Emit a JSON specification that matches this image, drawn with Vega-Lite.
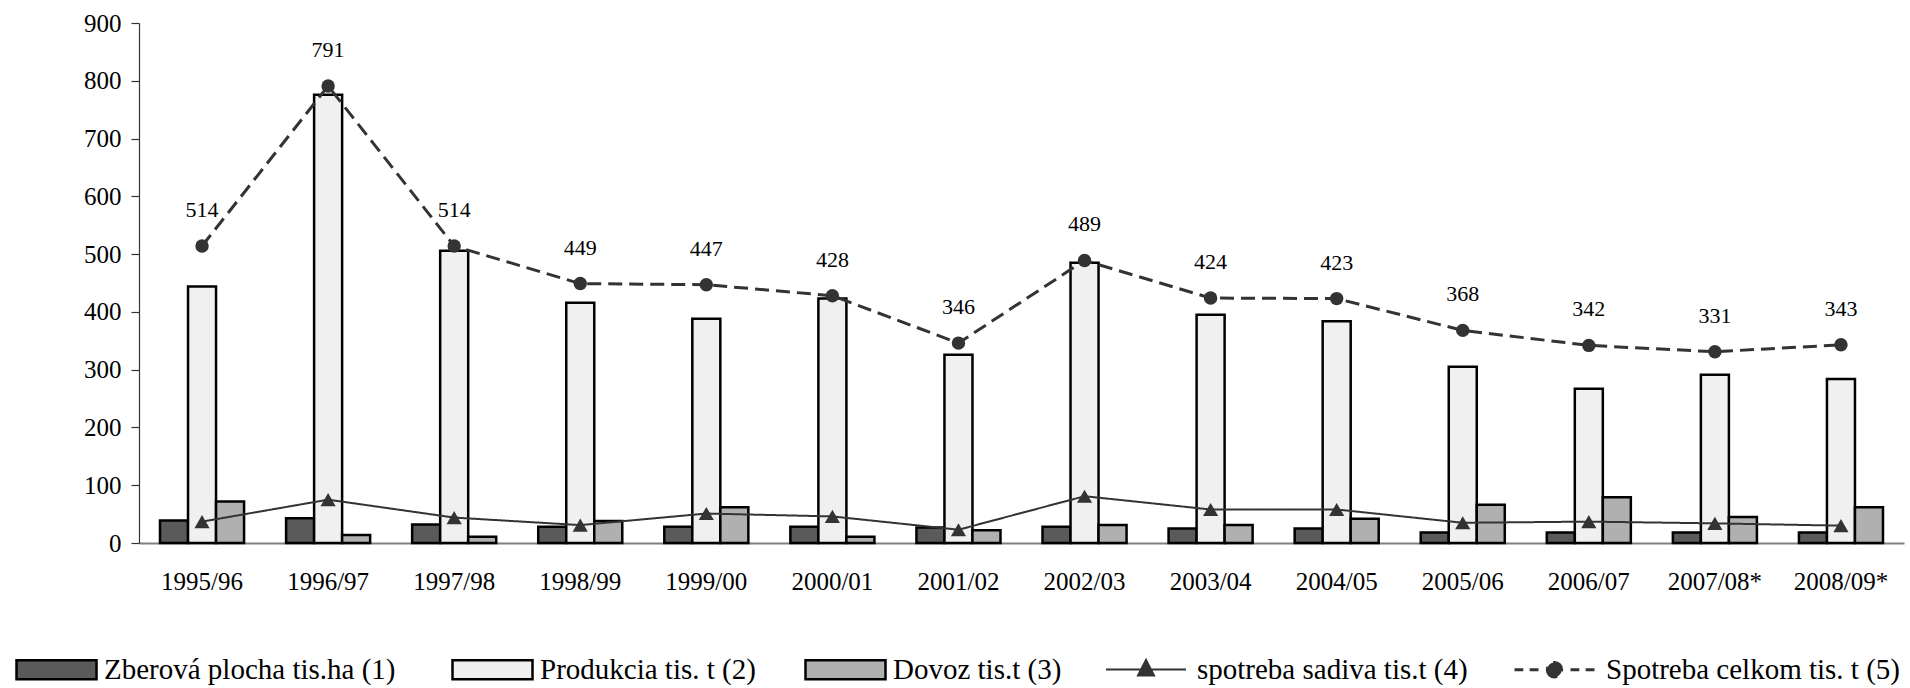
{
  "$schema": "https://vega.github.io/schema/vega-lite/v6.json",
  "width": 1765,
  "height": 520,
  "autosize": {"type": "none"},
  "padding": {"left": 139, "top": 23, "right": 6, "bottom": 145},
  "background": "white",
  "config": {
    "font": "Liberation Serif",
    "view": {"stroke": null},
    "axis": {"grid": false, "labelFont": "Liberation Serif", "labelColor": "black", "labelFontSize": 25},
    "legend": {"labelFont": "Liberation Serif", "labelFontSize": 29, "labelColor": "black", "labelLimit": 500}
  },
  "data": {
    "values": [
      {"year": "1995/96", "series": "Zberová plocha  tis.ha (1)", "value": 39},
      {"year": "1996/97", "series": "Zberová plocha  tis.ha (1)", "value": 43},
      {"year": "1997/98", "series": "Zberová plocha  tis.ha (1)", "value": 32},
      {"year": "1998/99", "series": "Zberová plocha  tis.ha (1)", "value": 28},
      {"year": "1999/00", "series": "Zberová plocha  tis.ha (1)", "value": 28},
      {"year": "2000/01", "series": "Zberová plocha  tis.ha (1)", "value": 28},
      {"year": "2001/02", "series": "Zberová plocha  tis.ha (1)", "value": 27},
      {"year": "2002/03", "series": "Zberová plocha  tis.ha (1)", "value": 28},
      {"year": "2003/04", "series": "Zberová plocha  tis.ha (1)", "value": 25},
      {"year": "2004/05", "series": "Zberová plocha  tis.ha (1)", "value": 25},
      {"year": "2005/06", "series": "Zberová plocha  tis.ha (1)", "value": 18},
      {"year": "2006/07", "series": "Zberová plocha  tis.ha (1)", "value": 18},
      {"year": "2007/08*", "series": "Zberová plocha  tis.ha (1)", "value": 18},
      {"year": "2008/09*", "series": "Zberová plocha  tis.ha (1)", "value": 18},
      {"year": "1995/96", "series": "Produkcia tis. t (2)", "value": 444},
      {"year": "1996/97", "series": "Produkcia tis. t (2)", "value": 776},
      {"year": "1997/98", "series": "Produkcia tis. t (2)", "value": 506},
      {"year": "1998/99", "series": "Produkcia tis. t (2)", "value": 416},
      {"year": "1999/00", "series": "Produkcia tis. t (2)", "value": 388},
      {"year": "2000/01", "series": "Produkcia tis. t (2)", "value": 423},
      {"year": "2001/02", "series": "Produkcia tis. t (2)", "value": 326},
      {"year": "2002/03", "series": "Produkcia tis. t (2)", "value": 485},
      {"year": "2003/04", "series": "Produkcia tis. t (2)", "value": 395},
      {"year": "2004/05", "series": "Produkcia tis. t (2)", "value": 384},
      {"year": "2005/06", "series": "Produkcia tis. t (2)", "value": 305},
      {"year": "2006/07", "series": "Produkcia tis. t (2)", "value": 267},
      {"year": "2007/08*", "series": "Produkcia tis. t (2)", "value": 291},
      {"year": "2008/09*", "series": "Produkcia tis. t (2)", "value": 284},
      {"year": "1995/96", "series": "Dovoz tis.t (3)", "value": 72},
      {"year": "1996/97", "series": "Dovoz tis.t (3)", "value": 14},
      {"year": "1997/98", "series": "Dovoz tis.t (3)", "value": 11},
      {"year": "1998/99", "series": "Dovoz tis.t (3)", "value": 38},
      {"year": "1999/00", "series": "Dovoz tis.t (3)", "value": 62},
      {"year": "2000/01", "series": "Dovoz tis.t (3)", "value": 11},
      {"year": "2001/02", "series": "Dovoz tis.t (3)", "value": 22},
      {"year": "2002/03", "series": "Dovoz tis.t (3)", "value": 31},
      {"year": "2003/04", "series": "Dovoz tis.t (3)", "value": 31},
      {"year": "2004/05", "series": "Dovoz tis.t (3)", "value": 42},
      {"year": "2005/06", "series": "Dovoz tis.t (3)", "value": 66},
      {"year": "2006/07", "series": "Dovoz tis.t (3)", "value": 79},
      {"year": "2007/08*", "series": "Dovoz tis.t (3)", "value": 45},
      {"year": "2008/09*", "series": "Dovoz tis.t (3)", "value": 62},
      {"year": "1995/96", "series": "spotreba sadiva tis.t (4)", "value": 37},
      {"year": "1996/97", "series": "spotreba sadiva tis.t (4)", "value": 75},
      {"year": "1997/98", "series": "spotreba sadiva tis.t (4)", "value": 44},
      {"year": "1998/99", "series": "spotreba sadiva tis.t (4)", "value": 31},
      {"year": "1999/00", "series": "spotreba sadiva tis.t (4)", "value": 51},
      {"year": "2000/01", "series": "spotreba sadiva tis.t (4)", "value": 46},
      {"year": "2001/02", "series": "spotreba sadiva tis.t (4)", "value": 23},
      {"year": "2002/03", "series": "spotreba sadiva tis.t (4)", "value": 81},
      {"year": "2003/04", "series": "spotreba sadiva tis.t (4)", "value": 58},
      {"year": "2004/05", "series": "spotreba sadiva tis.t (4)", "value": 58},
      {"year": "2005/06", "series": "spotreba sadiva tis.t (4)", "value": 35},
      {"year": "2006/07", "series": "spotreba sadiva tis.t (4)", "value": 37},
      {"year": "2007/08*", "series": "spotreba sadiva tis.t (4)", "value": 34},
      {"year": "2008/09*", "series": "spotreba sadiva tis.t (4)", "value": 30},
      {"year": "1995/96", "series": "Spotreba celkom tis. t (5)", "value": 514},
      {"year": "1996/97", "series": "Spotreba celkom tis. t (5)", "value": 791},
      {"year": "1997/98", "series": "Spotreba celkom tis. t (5)", "value": 514},
      {"year": "1998/99", "series": "Spotreba celkom tis. t (5)", "value": 449},
      {"year": "1999/00", "series": "Spotreba celkom tis. t (5)", "value": 447},
      {"year": "2000/01", "series": "Spotreba celkom tis. t (5)", "value": 428},
      {"year": "2001/02", "series": "Spotreba celkom tis. t (5)", "value": 346},
      {"year": "2002/03", "series": "Spotreba celkom tis. t (5)", "value": 489},
      {"year": "2003/04", "series": "Spotreba celkom tis. t (5)", "value": 424},
      {"year": "2004/05", "series": "Spotreba celkom tis. t (5)", "value": 423},
      {"year": "2005/06", "series": "Spotreba celkom tis. t (5)", "value": 368},
      {"year": "2006/07", "series": "Spotreba celkom tis. t (5)", "value": 342},
      {"year": "2007/08*", "series": "Spotreba celkom tis. t (5)", "value": 331},
      {"year": "2008/09*", "series": "Spotreba celkom tis. t (5)", "value": 343}
    ]
  },
  "encoding": {
    "x": {
      "field": "year", "type": "nominal", "sort": null,
      "scale": {"paddingInner": 0.3333, "paddingOuter": 0.1667},
      "axis": {"title": null, "labelAngle": 0, "ticks": false, "labelPadding": 26, "domainColor": "#808080", "domainWidth": 2}
    },
    "y": {
      "field": "value", "type": "quantitative",
      "scale": {"domain": [0, 900], "nice": false},
      "axis": {"title": null, "values": [0, 100, 200, 300, 400, 500, 600, 700, 800, 900], "tickSize": 8, "tickColor": "#333", "domainColor": "#333", "labelPadding": 10, "domainWidth": 1.2, "tickWidth": 1.2}
    }
  },
  "layer": [
    {
      "transform": [{"filter": "indexof(['Zberová plocha  tis.ha (1)', 'Produkcia tis. t (2)', 'Dovoz tis.t (3)'], datum.series) >= 0"}],
      "mark": {"type": "bar", "stroke": "black", "strokeWidth": 2.5},
      "encoding": {
        "xOffset": {"field": "series", "type": "nominal", "sort": ["Zberová plocha  tis.ha (1)", "Produkcia tis. t (2)", "Dovoz tis.t (3)"], "scale": {"paddingInner": 0, "paddingOuter": 0}},
        "fill": {
          "field": "series", "type": "nominal",
          "scale": {"domain": ["Zberová plocha  tis.ha (1)", "Produkcia tis. t (2)", "Dovoz tis.t (3)"], "range": ["#5a5a5a", "#f0f0f0", "#b0b0b0"]},
          "legend": {
            "title": null, "orient": "none", "legendX": -124, "legendY": 605, "direction": "horizontal",
            "symbolType": "M-1,-0.24H1V0.24H-1Z", "symbolSize": 6400, "symbolStrokeColor": "black", "symbolStrokeWidth": 2.5,
            "symbolOpacity": 1, "labelOffset": 6, "columnPadding": 44,
            "labelFont": "Liberation Serif", "labelFontSize": 29, "labelColor": "black"
          }
        }
      }
    },
    {
      "transform": [{"filter": "datum.series === 'spotreba sadiva tis.t (4)' || datum.series === 'Spotreba celkom tis. t (5)'"}],
      "mark": {"type": "line"},
      "encoding": {
        "stroke": {
          "field": "series", "type": "nominal",
          "scale": {"domain": ["spotreba sadiva tis.t (4)", "Spotreba celkom tis. t (5)"], "range": ["#333333", "#333333"]},
          "legend": {
            "title": null, "orient": "none", "legendX": 966, "legendY": 605, "direction": "horizontal",
            "symbolSize": 6400, "symbolStrokeWidth": 2.5, "labelOffset": 10, "columnPadding": 40,
            "labelFont": "Liberation Serif", "labelFontSize": 29, "labelColor": "black",
            "encode": {
              "symbols": {
                "update": {
                  "shape": {"signal": "datum.value === 'spotreba sadiva tis.t (4)' ? 'M-1,0H1M0,-0.24L0.2,0.15L-0.2,0.15Z' : 'M-1,0H-0.78M-0.62,0H-0.4M0.4,0H0.62M0.78,0H1M-0.18,0A0.18,0.18 0 1,0 0.18,0A0.18,0.18 0 1,0 -0.18,0Z'"},
                  "fill": {"value": "#333333"},
                  "stroke": {"value": "#333333"},
                  "strokeDash": {"value": [1, 0]},
                  "opacity": {"value": 1}
                }
              }
            }
          }
        },
        "strokeDash": {
          "field": "series", "type": "nominal",
          "scale": {"domain": ["spotreba sadiva tis.t (4)", "Spotreba celkom tis. t (5)"], "range": [[1, 0], [14, 7]]},
          "legend": null
        },
        "strokeWidth": {
          "field": "series", "type": "nominal",
          "scale": {"domain": ["spotreba sadiva tis.t (4)", "Spotreba celkom tis. t (5)"], "range": [2, 3]},
          "legend": null
        }
      }
    },
    {
      "transform": [{"filter": "datum.series === 'spotreba sadiva tis.t (4)'"}],
      "mark": {"type": "point", "shape": "triangle-up", "filled": true, "color": "#333333", "size": 230, "opacity": 1}
    },
    {
      "transform": [{"filter": "datum.series === 'Spotreba celkom tis. t (5)'"}],
      "mark": {"type": "point", "shape": "circle", "filled": true, "color": "#333333", "size": 180, "opacity": 1}
    },
    {
      "transform": [{"filter": "datum.series === 'Spotreba celkom tis. t (5)'"}],
      "mark": {"type": "text", "dy": -36, "fontSize": 22, "color": "black", "font": "Liberation Serif"},
      "encoding": {"text": {"field": "value", "type": "quantitative"}}
    }
  ]
}
